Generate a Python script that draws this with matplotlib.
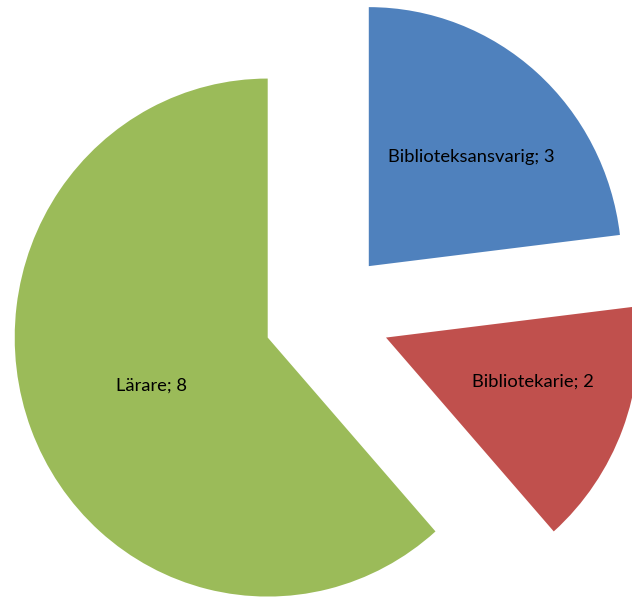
#Pie chart of roles
import numpy as np
import matplotlib.pyplot as plt

#Data
categories = ['Biblioteksansvarig', 'Bibliotekarie', 'Lärare']
values = [3, 2, 8]
colors = ['#4F81BD', '#C0504D', '#9BBB59']

#Figure in pixel units (the original is slightly squeezed horizontally)
fig = plt.figure(figsize=(6.32, 5.98), dpi=100)
ax = fig.add_axes([0, 0, 1, 1])
xscale = 259 / 253

radius = 259
# explode in pie is in data units, so scale by the radius
wedges, _ = ax.pie(values, colors=colors, startangle=90, counterclock=False,
                   explode=[0.25 * radius] * 3, radius=radius, center=(334.6, 283.4),
                   wedgeprops=dict(linewidth=0))

#Labels placed along each wedge's middle angle
label_dist = [0.585, 0.605, 0.495]
label_rot = [-2.2, 4.5, 1.2]
for w, cat, val, d, r in zip(wedges, categories, values, label_dist, label_rot):
    mid = np.deg2rad((w.theta1 + w.theta2) / 2 + r)
    cx, cy = w.center
    ax.text(cx + d * radius * np.cos(mid), cy + d * radius * np.sin(mid),
            f'{cat}; {val}', ha='center', va='center', fontsize=13.2,
            family='Lato', color='black')

ax.set_xlim(0, 632 * xscale)
ax.set_ylim(0, 598)
ax.set_aspect('auto')
ax.axis('off')
fig.savefig('out.png', dpi=100, facecolor='white')
